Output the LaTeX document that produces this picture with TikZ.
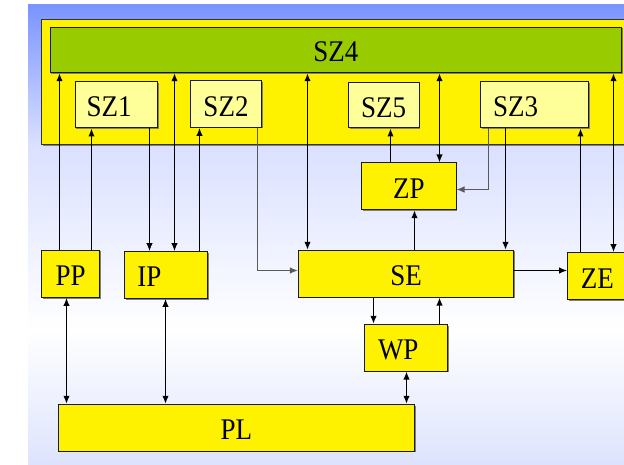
\documentclass[tikz,border=0pt]{standalone}
\usepackage{fontspec}
\setmainfont{Liberation Serif}[FakeStretch=0.9]
\usetikzlibrary{arrows.meta}
\definecolor{bgtop}{RGB}{122,148,255}
\definecolor{bgmid}{RGB}{218,224,255}
\definecolor{bgbot}{RGB}{221,227,253}
\definecolor{szgreen}{RGB}{153,204,0}
\definecolor{paleyellow}{RGB}{255,255,153}
\tikzset{
  boxbase/.style={draw=black!90, line width=1pt, inner sep=0pt, text height=24pt, text depth=0pt,
    font=\fontsize{30}{32}\selectfont,
    preaction={fill=black!50, transform canvas={shift={(1.2pt,-1.2pt)}}}},
  ybox/.style={boxbase, fill=yellow},
  pbox/.style={boxbase, fill=paleyellow},
  gbox/.style={boxbase, fill=szgreen},
  arr/.style={line width=1.5pt, black, -{Latex[length=8pt,width=6.5pt]}},
  darr/.style={line width=1.5pt, black, {Latex[length=8pt,width=6.5pt]}-{Latex[length=8pt,width=6.5pt]}},
  thinarr/.style={line width=1pt, black!65, -{Latex[length=8pt,width=6.5pt]}}
}
\begin{document}
\begin{tikzpicture}[x=1pt,y=-1pt]
\useasboundingbox (0,0) rectangle (624,465);
\begin{scope}
\clip (0,0) rectangle (624,465);
% background
\shade[top color=bgtop, bottom color=bgmid] (28,5) rectangle (630,145);
\shade[top color=bgmid, bottom color=white] (28,145) rectangle (630,330);
\shade[top color=white, bottom color=bgbot] (28,330) rectangle (630,465.5);
% yellow band
\node[draw=black!80, line width=1pt, fill=yellow, inner sep=0pt, minimum width=590pt, minimum height=125.7pt,
  preaction={fill=black!50, transform canvas={shift={(1.2pt,-1.2pt)}}}] (band) at (336.7,82.15) {};
% boxes
\node[gbox, minimum width=571.7pt, minimum height=45.4pt] (sz4) at (335.85,50) {SZ4};
\node[pbox, minimum width=82.7pt, minimum height=46pt, text width=59.3pt, align=left, inner xsep=11.7pt] (sz1) at (116.35,105) {SZ1};
\node[pbox, minimum width=70.6pt, minimum height=46.3pt] (sz2) at (226,104.15) {SZ2};
\node[pbox, minimum width=70.7pt, minimum height=45.7pt] (sz5) at (383.65,105.15) {SZ5};
\node[pbox, minimum width=107.6pt, minimum height=46pt, text width=83pt, align=left, inner xsep=12.3pt] (sz3) at (534.5,105) {SZ3};
\node[ybox, minimum width=94.3pt, minimum height=46.7pt] (zp) at (408.85,186.35) {ZP};
\node[ybox, minimum width=58pt, minimum height=47pt] (pp) at (70.7,273.8) {PP};
\node[ybox, minimum width=82.6pt, minimum height=46.6pt, text width=57.4pt, align=left, inner xsep=12.6pt] (ip) at (166,275) {IP};
\node[ybox, minimum width=215.4pt, minimum height=46.7pt] (se) at (406,273.65) {SE};
\node[ybox, minimum width=59.3pt, minimum height=47pt] (ze) at (597.35,276.2) {ZE};
\node[ybox, minimum width=83.4pt, minimum height=46.7pt, text width=56pt, align=left, inner xsep=13.7pt] (wp) at (406,347.65) {WP};
\node[ybox, minimum width=356pt, minimum height=46.7pt] (pl) at (236.3,427.65) {PL};
% guide coordinates
\coordinate (x59) at (59.5,0);
\coordinate (x67) at (66.5,0);
\coordinate (x91) at (91.5,0);
\coordinate (x149) at (149.5,0);
\coordinate (x166) at (165.5,0);
\coordinate (x174) at (174.5,0);
\coordinate (x199) at (199.5,0);
\coordinate (x257) at (257.5,0);
\coordinate (x307) at (307.5,0);
\coordinate (x373) at (373.5,0);
\coordinate (x390) at (390.5,0);
\coordinate (x406) at (406.5,0);
\coordinate (x414) at (414.5,0);
\coordinate (x439) at (439.5,0);
\coordinate (x489) at (488.5,0);
\coordinate (x505) at (505.5,0);
\coordinate (x580) at (580.5,0);
\coordinate (x613) at (613.5,0);
\coordinate (y190) at (0,189.5);
\coordinate (y271) at (0,270.5);
% connectors
\draw[arr] (pp.north -| x59) -- (sz4.south -| x59);
\draw[arr] (pp.north -| x91) -- (sz1.south -| x91);
\draw[arr] (sz1.south -| x149) -- (ip.north -| x149);
\draw[darr] (sz4.south -| x174) -- (ip.north -| x174);
\draw[arr] (ip.north -| x199) -- (sz2.south -| x199);
\draw[thinarr] (sz2.south -| x257) |- (se.west |- y271);
\draw[darr] (sz4.south -| x307) -- (se.north -| x307);
\draw[arr] (zp.north -| x390) -- (sz5.south -| x390);
\draw[darr] (sz4.south -| x439) -- (zp.north -| x439);
\draw[thinarr] (sz3.south -| x489) |- (zp.east |- y190);
\draw[arr] (sz3.south -| x505) -- (se.north -| x505);
\draw[arr] (ze.north -| x580) -- (sz3.south -| x580);
\draw[darr] (sz4.south -| x613) -- (ze.north -| x613);
\draw[arr] (se.north -| x414) -- (zp.south -| x414);
\draw[arr] (se.east |- y271) -- (ze.west |- y271);
\draw[arr] (se.south -| x373) -- (wp.north -| x373);
\draw[arr] (wp.north -| x439) -- (se.south -| x439);
\draw[darr] (pp.south -| x67) -- (pl.north -| x67);
\draw[darr] (ip.south -| x166) -- (pl.north -| x166);
\draw[darr] (wp.south -| x406) -- (pl.north -| x406);
\end{scope}
\end{tikzpicture}
\end{document}
